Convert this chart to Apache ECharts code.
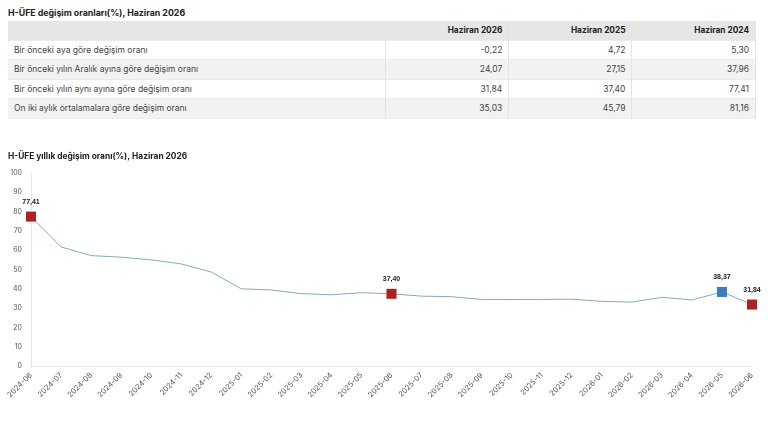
<!DOCTYPE html>
<html>
<head>
<meta charset="utf-8">
<script src="https://cdn.jsdelivr.net/npm/echarts@6/dist/echarts.min.js"></script>
<style>
    body { margin: 0; background: #fff; font-family: Inter, "Noto Sans", sans-serif; color: #333; }
    .title { position: absolute; left: 8px; top: 7px; font-size: 8.8px; font-weight: bold; color: #222; }
    table { position: absolute; left: 8px; top: 21px; width: 748px; border-collapse: collapse; font-size: 8.5px; }
    th, td { height: 18.5px; padding: 0 6px; border-right: 1px solid #e4e4e4; color: #444; }
    th { background: #e6e6e6; font-weight: bold; color: #222; text-align: right; font-size: 8.3px; }
    td.num { text-align: right; }
    tbody tr:nth-child(even) td { background: #f2f2f2; }
    tr { border-bottom: 1px solid #ebebeb; }
    #chart { position: absolute; left: 0; top: 145px; width: 770px; height: 280px; }
</style>
</head>
<body>
<div class="title">H-ÜFE değişim oranları(%), Haziran 2026</div>
<table id="tbl"></table>
<div id="chart"></div>
<script>
// table data
const columns = ['Haziran 2026', 'Haziran 2025', 'Haziran 2024'];
const rowLabels = [
    'Bir önceki aya göre değişim oranı',
    'Bir önceki yılın Aralık ayına göre değişim oranı',
    'Bir önceki yılın aynı ayına göre değişim oranı',
    'On iki aylık ortalamalara göre değişim oranı'
];
const rowValues = [
    ['-0,22', '4,72', '5,30'],
    ['24,07', '27,15', '37,96'],
    ['31,84', '37,40', '77,41'],
    ['35,03', '45,79', '81,16']
];

// line chart data
const months = ['2024-06', '2024-07', '2024-08', '2024-09', '2024-10', '2024-11', '2024-12',
    '2025-01', '2025-02', '2025-03', '2025-04', '2025-05', '2025-06', '2025-07', '2025-08',
    '2025-09', '2025-10', '2025-11', '2025-12', '2026-01', '2026-02', '2026-03', '2026-04',
    '2026-05', '2026-06'];
const yearly = [77.41, 61.7, 57.2, 56.4, 55.0, 52.9, 48.7,
    40.0, 39.4, 37.5, 36.9, 38.0, 37.40, 36.2, 35.9,
    34.5, 34.4, 34.5, 34.6, 33.5, 33.1, 35.6, 34.2,
    38.37, 31.84];
const highlightRed = ['2024-06', '2025-06', '2026-06'];
const highlightBlue = ['2026-05'];

let html = '<thead><tr><th style="width:365px"></th>';
columns.forEach(c => { html += '<th>' + c + '</th>'; });
html += '</tr></thead><tbody>';
rowLabels.forEach((label, i) => {
    html += '<tr><td>' + label + '</td>';
    rowValues[i].forEach(v => { html += '<td class="num">' + v + '</td>'; });
    html += '</tr>';
});
html += '</tbody>';
document.getElementById('tbl').innerHTML = html;

const seriesData = yearly.map((v, idx) => {
    const m = months[idx];
    let item = { value: v };
    if (highlightRed.includes(m) || highlightBlue.includes(m)) {
        item.symbol = 'rect';
        item.symbolSize = 10;
        item.itemStyle = { color: highlightRed.includes(m) ? '#b01f24' : '#3b7dc0' };
        item.label = {
            show: true,
            position: 'top',
            distance: 6,
            formatter: v.toFixed(2).replace('.', ','),
            fontSize: 7,
            fontWeight: 'bold',
            color: '#222'
        };
    }
    return item;
});

const chart = echarts.init(document.getElementById('chart'));
chart.setOption({
    animation: false,
    title: {
        text: 'H-ÜFE yıllık değişim oranı(%), Haziran 2026',
        left: 3,
        top: 2,
        textStyle: { fontSize: 8.4, fontWeight: 'bold', color: '#222', fontFamily: 'Inter' }
    },
    grid: { left: 31, right: 18, top: 28, bottom: 59 },
    xAxis: {
        type: 'category',
        data: months,
        boundaryGap: false,
        axisLine: { lineStyle: { color: '#e6e6e6' } },
        axisTick: { show: false },
        axisLabel: { rotate: 45, fontSize: 7.5, color: '#555', margin: 8, fontFamily: 'Inter', interval: 0 }
    },
    yAxis: {
        type: 'value',
        min: 0,
        max: 100,
        interval: 10,
        axisLine: { show: true, lineStyle: { color: '#e6e6e6' } },
        axisTick: { show: false },
        splitLine: { show: false },
        axisLabel: { fontSize: 7, color: '#555', margin: 9, fontFamily: 'Inter' }
    },
    series: [{
        type: 'line',
        data: seriesData,
        symbol: 'none',
        showSymbol: true,
        lineStyle: { color: '#86aabb', width: 1 },
        itemStyle: { color: '#86aabb' }
    }]
});
</script>
</body>
</html>
